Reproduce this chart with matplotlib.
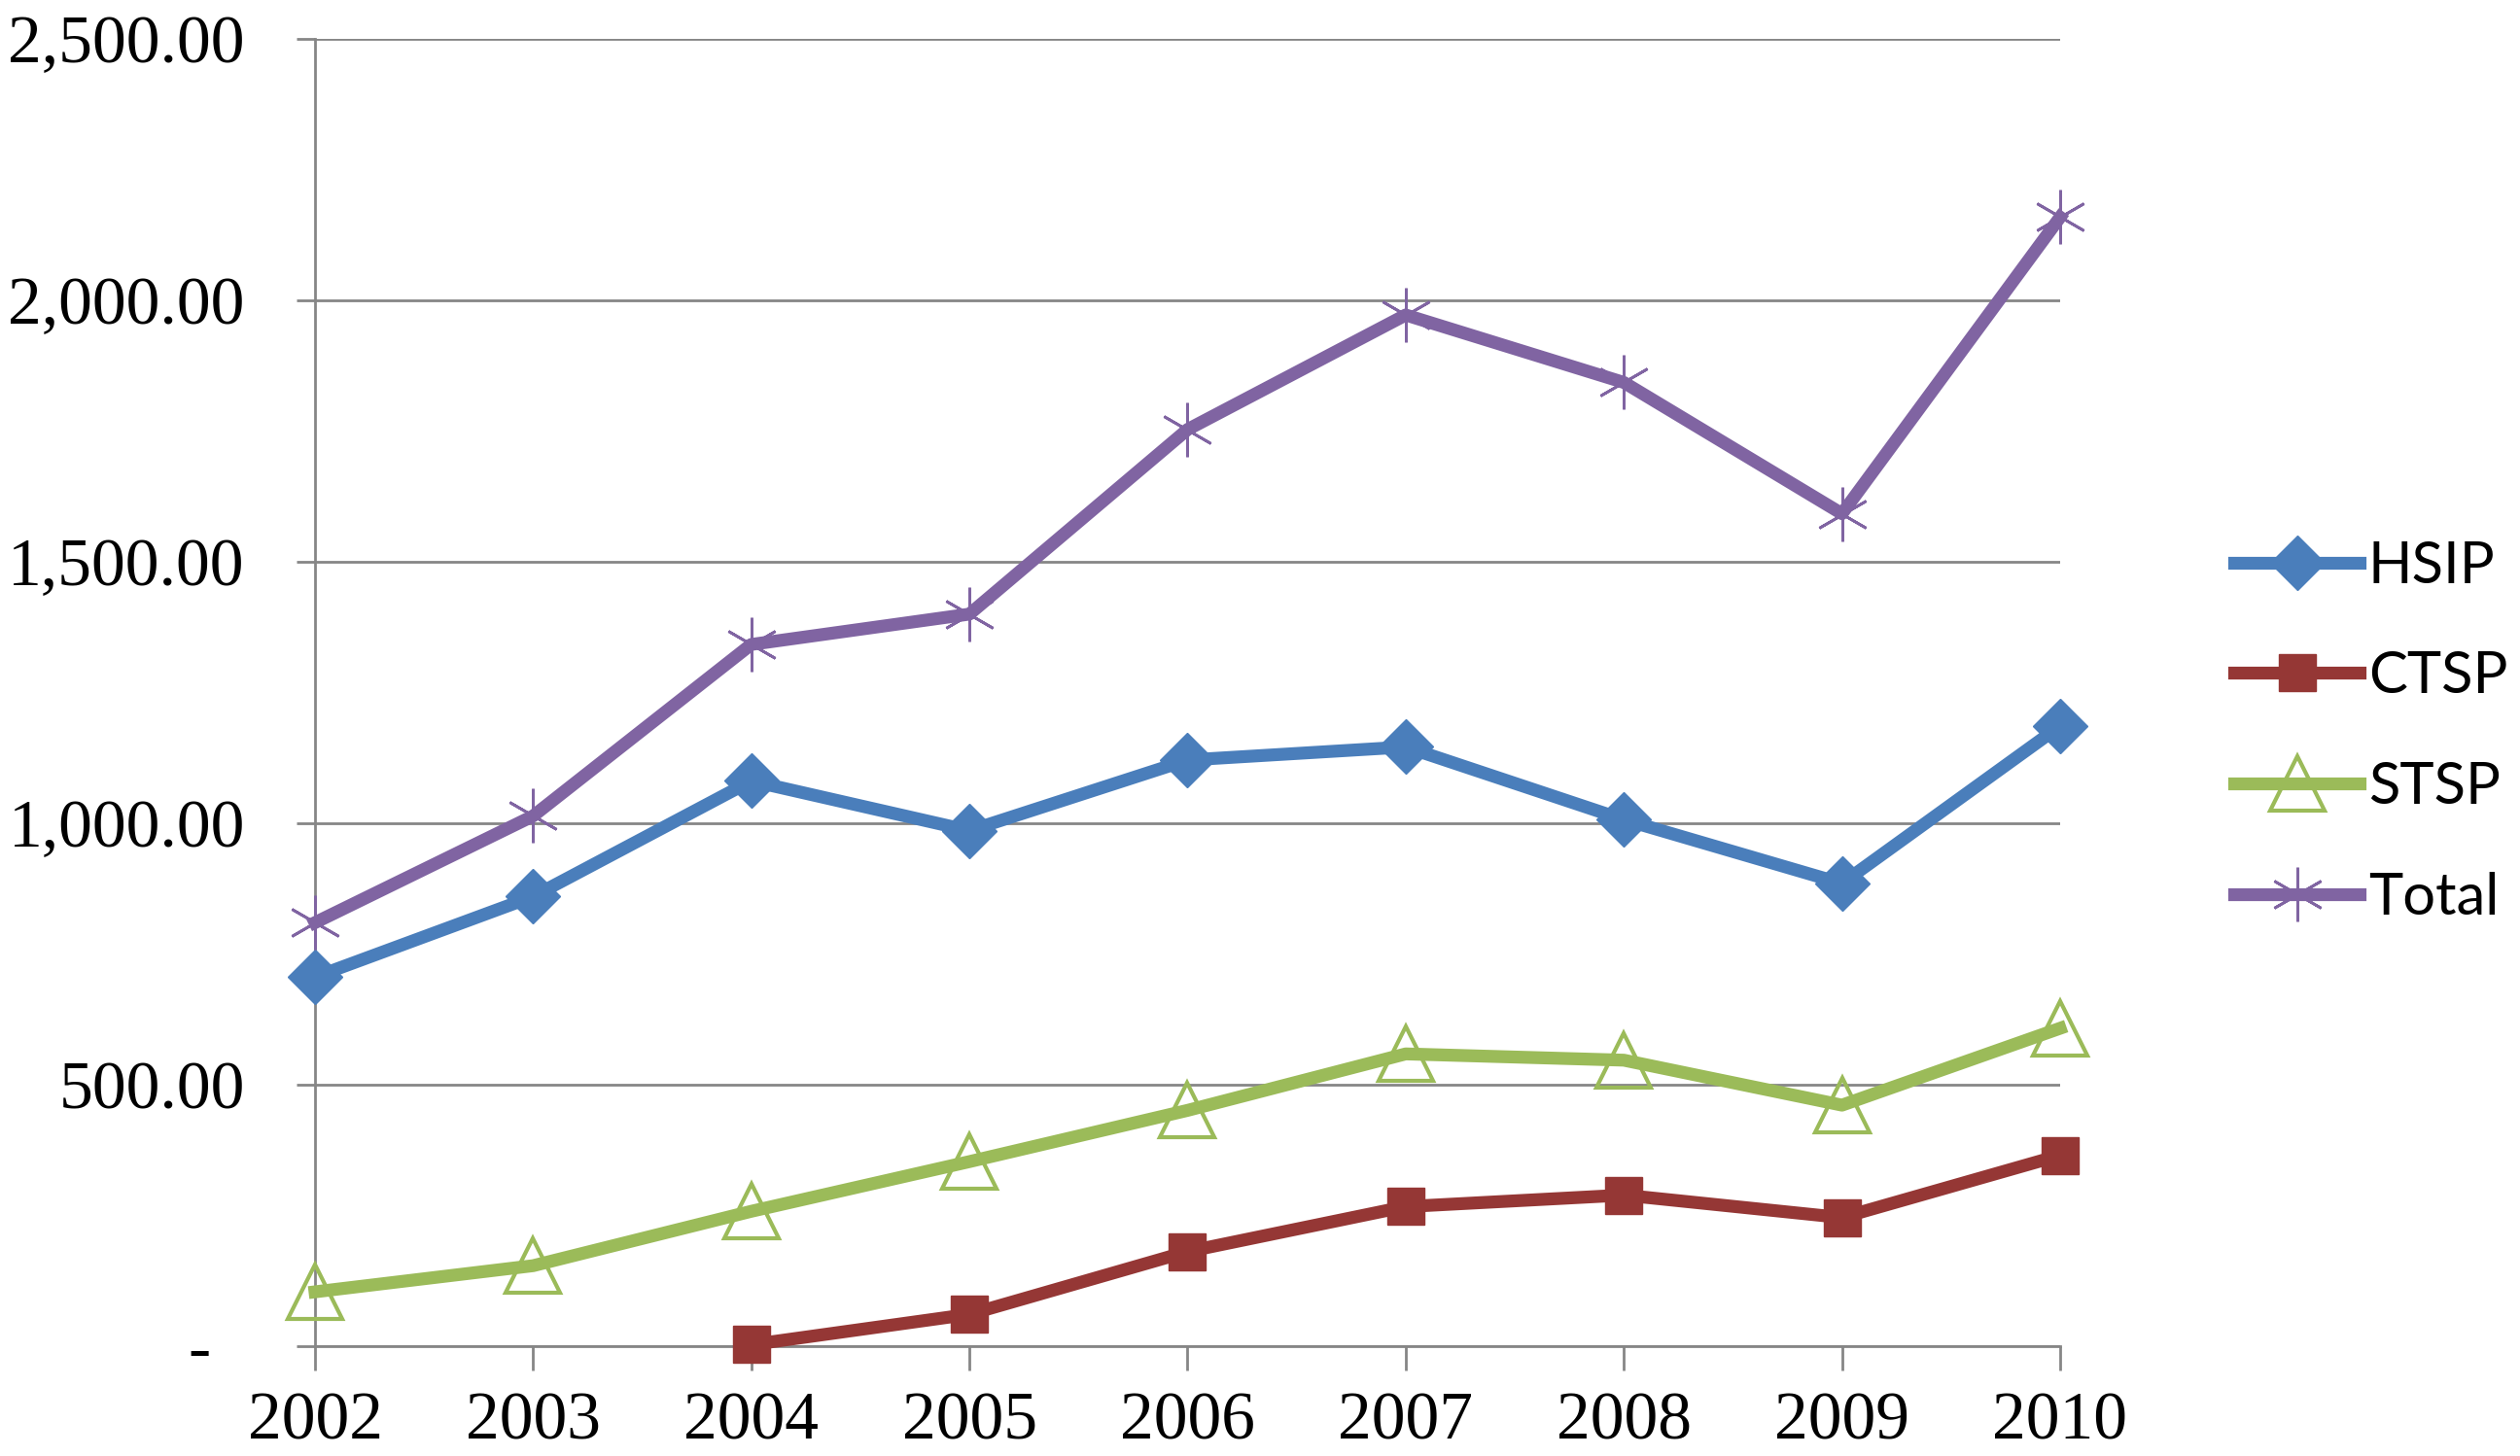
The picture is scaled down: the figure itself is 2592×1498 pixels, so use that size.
import matplotlib
matplotlib.use('Agg')
import matplotlib.pyplot as plt
from matplotlib.ticker import FuncFormatter

# Values
years = [2002, 2003, 2004, 2005, 2006, 2007, 2008, 2009, 2010]
hsip = [706, 860, 1081, 986, 1121, 1146, 1007, 885, 1186]
ctsp_years = [2004, 2005, 2006, 2007, 2008, 2009, 2010]
ctsp = [3, 61, 181, 267, 289, 246, 365]
stsp = [104, 154, 258, 353, 451, 559, 547, 461, 608]
total = [810, 1014, 1342, 1400, 1753, 1972, 1843, 1592, 2159]

yticks = [0, 500, 1000, 1500, 2000, 2500]

fig = plt.figure(figsize=(25.92, 14.98), dpi=100)
ax = fig.add_axes([0.125, 0.0754, 0.6925, 0.8979])

grid_color = '#868686'

ax.plot(years, hsip, color='#4A7EBB', lw=9.5, marker='D', ms=29,
        label='HSIP', zorder=3, clip_on=False)
ax.plot(ctsp_years, ctsp, color='#953735', lw=9.5, marker='s', ms=28,
        label='CTSP', zorder=3, clip_on=False)
ax.plot(years, stsp, color='#9BBB59', lw=9.5, marker='^', ms=40,
        markerfacecolor='none', markeredgewidth=3, label='STSP', zorder=3,
        clip_on=False)
ax.plot(years, total, color='#8064A2', lw=9.5, marker=(6, 2, 0), ms=40,
        markeredgewidth=2, label='Total', zorder=3, clip_on=False)

ax.set_xlim(2002, 2010)
ax.set_ylim(0, 2500)
ax.set_xticks(years)
ax.set_yticks(yticks)


def fmt(v, pos):
    if v == 0:
        return '-  '
    return '{:,.2f}'.format(v)


ax.yaxis.set_major_formatter(FuncFormatter(fmt))
ax.grid(axis='y', color=grid_color, lw=2, zorder=1)
ax.set_axisbelow(True)

for s in ['top', 'right']:
    ax.spines[s].set_visible(False)
for s in ['left', 'bottom']:
    ax.spines[s].set_color(grid_color)
    ax.spines[s].set_linewidth(2)

ax.tick_params(axis='y', direction='out', length=14, width=2, color=grid_color,
               pad=38, labelsize=50)
ax.tick_params(axis='x', direction='out', length=18, width=2, color=grid_color,
               pad=16, labelsize=50)
for lab in ax.get_xticklabels() + ax.get_yticklabels():
    lab.set_family('Liberation Serif')

leg = ax.legend(loc='upper left', bbox_to_anchor=(0.866, 0.665),
                bbox_transform=fig.transFigure, frameon=False,
                prop={'family': 'Lato', 'size': 43},
                handlelength=2.15, handletextpad=0.15, labelspacing=1.0)

fig.savefig('out.png', dpi=100)
